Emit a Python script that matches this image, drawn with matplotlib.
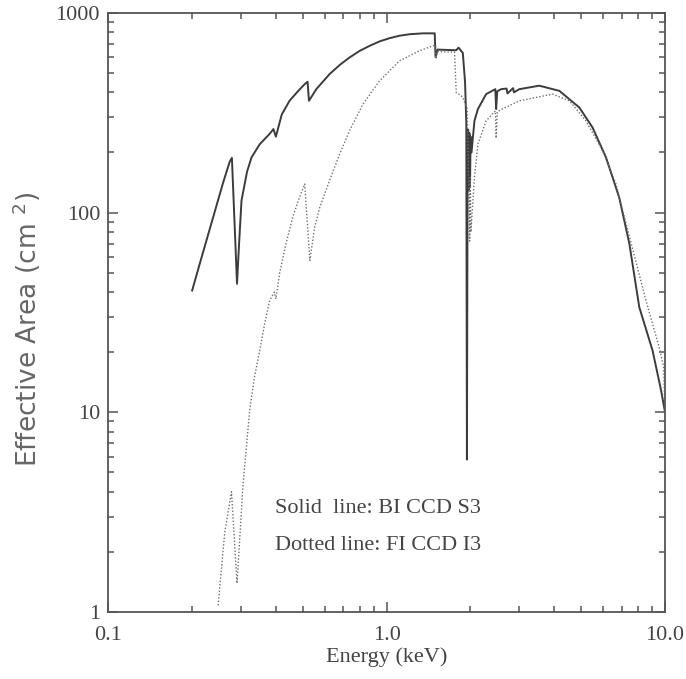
import matplotlib
matplotlib.use("Agg")
import matplotlib.pyplot as plt
from matplotlib.ticker import FixedLocator, LogLocator, NullFormatter

# Solid line: BI CCD S3
solid_energy = [0.200, 0.215, 0.238, 0.258, 0.273, 0.278, 0.290, 0.295, 0.301, 0.315,
                0.327, 0.350, 0.380, 0.392, 0.400, 0.420, 0.448, 0.480, 0.508, 0.520,
                0.526, 0.559, 0.624, 0.680, 0.736, 0.800, 0.869, 0.944, 1.025, 1.110,
                1.210, 1.350, 1.490, 1.500, 1.525, 1.780, 1.814, 1.880, 1.915, 1.935,
                1.945, 1.955, 1.965, 1.975, 1.985, 1.995, 2.005, 2.020, 2.070, 2.130,
                2.280, 2.460, 2.477, 2.500, 2.580, 2.700, 2.720, 2.850, 2.870, 3.000,
                3.540, 4.180, 4.930, 5.500, 6.150, 6.860, 7.460, 8.100, 9.040, 9.700,
                10.000]
solid_area = [40.7, 58, 94.8, 140, 180, 188, 44, 70, 115, 160,
              189, 220, 248, 262, 240, 310, 363, 405, 440, 452,
              363, 415, 494, 550, 598, 645, 684, 720, 747, 768,
              782, 790, 790, 600, 655, 650, 670, 630, 450, 280,
              5.8, 140, 260, 130, 250, 135, 240, 200, 288, 330,
              392, 415, 330, 405, 415, 418, 395, 420, 400, 415,
              432, 407, 336, 267, 189, 119, 70, 33.6, 20.4, 12.9,
              10.2]

# Dotted line: FI CCD I3
dotted_energy = [0.248, 0.262, 0.277, 0.290, 0.305, 0.322, 0.335, 0.350, 0.365, 0.380,
                 0.395, 0.400, 0.413, 0.435, 0.460, 0.485, 0.508, 0.530, 0.552, 0.575,
                 0.624, 0.678, 0.736, 0.822, 0.944, 1.113, 1.313, 1.467, 1.500, 1.505,
                 1.525, 1.755, 1.780, 1.875, 1.950, 1.990, 2.000, 2.010, 2.070, 2.130,
                 2.280, 2.460, 2.477, 2.500, 2.616, 3.000, 3.950, 4.540, 5.210, 5.980,
                 6.680, 7.660, 8.560, 9.550, 9.900, 10.000]
dotted_area = [1.08, 2.5, 4.0, 1.39, 4.4, 10.2, 15, 20.4, 28, 36.3,
               40, 37, 50, 70, 94.8, 118, 139, 57.5, 85, 106,
               145, 196, 257, 349, 457, 575, 646, 684, 690, 590,
               640, 636, 400, 380, 330, 72, 150, 80, 150, 220,
               288, 323, 236, 320, 331, 363, 392, 363, 288, 204,
               139, 66, 36.3, 21.2, 17, 11]

x_ticks = [0.1, 1.0, 10.0]
x_tick_labels = ["0.1", "1.0", "10.0"]
y_ticks = [1, 10, 100, 1000]
y_tick_labels = ["1", "10", "100", "1000"]

legend_lines = ["Solid  line: BI CCD S3", "Dotted line: FI CCD I3"]

FONT = "Liberation Serif"
AXC = "#555555"

fig = plt.figure(figsize=(6.86, 6.79), dpi=100)
ax = fig.add_axes([0.158, 0.0987, 0.811, 0.8823])

ax.plot(solid_energy, solid_area, color="#3c3c3c", lw=1.4, solid_joinstyle="round")
ax.plot(dotted_energy, dotted_area, color="#707070", lw=1.0, linestyle=(0, (1, 1.4)))

ax.set_xscale("log")
ax.set_yscale("log")
ax.set_xlim(0.1, 10.0)
ax.set_ylim(1, 1000)

ax.xaxis.set_major_locator(FixedLocator(x_ticks))
ax.set_xticklabels(x_tick_labels)
ax.yaxis.set_major_locator(FixedLocator(y_ticks))
ax.set_yticklabels(y_tick_labels)
ax.xaxis.set_minor_locator(LogLocator(base=10, subs=range(2, 10)))
ax.yaxis.set_minor_locator(LogLocator(base=10, subs=range(2, 10)))
ax.xaxis.set_minor_formatter(NullFormatter())
ax.yaxis.set_minor_formatter(NullFormatter())

ax.tick_params(which="both", direction="in", top=True, right=True, color=AXC, width=1.1,
               labelcolor="#444444", labelsize=16)
ax.tick_params(which="major", length=7.5)
ax.tick_params(which="minor", length=4)
ax.tick_params(axis="x", pad=10)
ax.tick_params(axis="y", pad=6)
for lab in ax.get_xticklabels() + ax.get_yticklabels():
    lab.set_family(FONT)
for s in ax.spines.values():
    s.set_color(AXC)
    s.set_linewidth(1.3)

ax.set_xlabel("Energy (keV)", family=FONT, fontsize=16, color="#444444", labelpad=2)
ax.set_ylabel("Effective Area (cm $^{2}$)", family="DejaVu Sans", fontsize=19,
              color="#666666")
ax.yaxis.set_label_coords(-0.118, 0.472)

ax.text(0.396, 3.3, legend_lines[0], family=FONT, fontsize=16, color="#444444", va="center")
ax.text(0.396, 2.15, legend_lines[1], family=FONT, fontsize=16, color="#444444", va="center")

fig.savefig("out.png", dpi=100, facecolor="white")
